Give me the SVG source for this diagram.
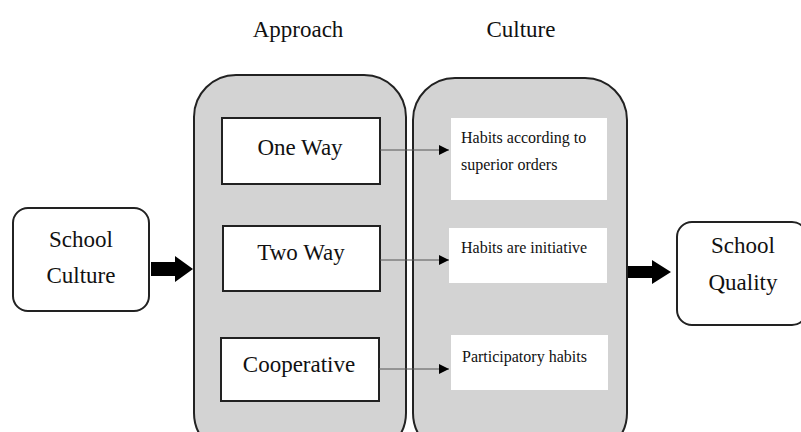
<svg xmlns="http://www.w3.org/2000/svg" width="801" height="432" viewBox="0 0 801 432">
  <style>
    .panel { fill: #d3d3d3; stroke: #222; stroke-width: 2; }
    .box { fill: #fff; stroke: #222; stroke-width: 2; }
    .note { fill: #fff; stroke: none; }
    .t { font-family: "Liberation Serif", "DejaVu Serif", serif; fill: #111; }
    .big { font-size: 23px; text-anchor: middle; }
    .small { font-size: 16px; }
    .link { stroke: #555; stroke-width: 1; fill: none; marker-end: url(#tip); }
    .fat { fill: #000; }
  </style>
  <defs>
    <marker id="tip" viewBox="0 0 10 10" refX="10" refY="5" markerWidth="10" markerHeight="10" markerUnits="userSpaceOnUse" orient="auto">
      <path d="M0,0 L10,5 L0,10 Z" fill="#000"/>
    </marker>
  </defs>

  <rect width="801" height="432" fill="#fff"/>

  <!-- column headings -->
  <text class="t big" x="298" y="37">Approach</text>
  <text class="t big" x="521" y="37">Culture</text>

  <!-- approach panel -->
  <g id="approach">
    <rect class="panel" x="194" y="75" width="212" height="380" rx="42"/>
  </g>
  <!-- culture panel -->
  <g id="culture">
    <rect class="panel" x="413" y="78" width="214" height="377" rx="42"/>
  </g>

  <g id="one-way">
    <rect class="box" x="222" y="118" width="158" height="66"/>
    <text class="t big" x="300" y="155">One Way</text>
  </g>
  <g id="two-way">
    <rect class="box" x="223" y="226" width="157" height="65"/>
    <text class="t big" x="301" y="260">Two Way</text>
  </g>
  <g id="cooperative">
    <rect class="box" x="221" y="338" width="158" height="63"/>
    <text class="t big" x="299" y="372">Cooperative</text>
  </g>

  <g id="habits-superior">
    <rect class="note" x="451" y="118" width="156" height="82"/>
    <text class="t small" x="461" y="143">Habits according to</text>
    <text class="t small" x="461" y="170">superior orders</text>
  </g>
  <g id="habits-initiative">
    <rect class="note" x="449" y="228" width="158" height="55"/>
    <text class="t small" x="461" y="253">Habits are initiative</text>
  </g>
  <g id="habits-participatory">
    <rect class="note" x="451" y="335" width="157" height="55"/>
    <text class="t small" x="462" y="362">Participatory habits</text>
  </g>

  <g id="school-culture">
    <rect class="box" x="13" y="208" width="136" height="103" rx="15"/>
    <text class="t big" x="81" y="247">School</text>
    <text class="t big" x="81" y="283">Culture</text>
  </g>
  <g id="school-quality">
    <rect class="box" x="677" y="222" width="130" height="103" rx="15"/>
    <text class="t big" x="743" y="253">School</text>
    <text class="t big" x="743" y="290">Quality</text>
  </g>

  <g id="connectors">
    <line class="link" x1="380" y1="150" x2="449" y2="150"/>
    <line class="link" x1="380" y1="260" x2="449" y2="260"/>
    <line class="link" x1="379" y1="369" x2="449" y2="369"/>
    <path class="fat" d="M151,262 H175 V256 L193,269 L175,282 V276 H151 Z"/>
    <path class="fat" d="M628,266 H652 V260 L671,272 L652,284 V278 H628 Z"/>
  </g>
</svg>
